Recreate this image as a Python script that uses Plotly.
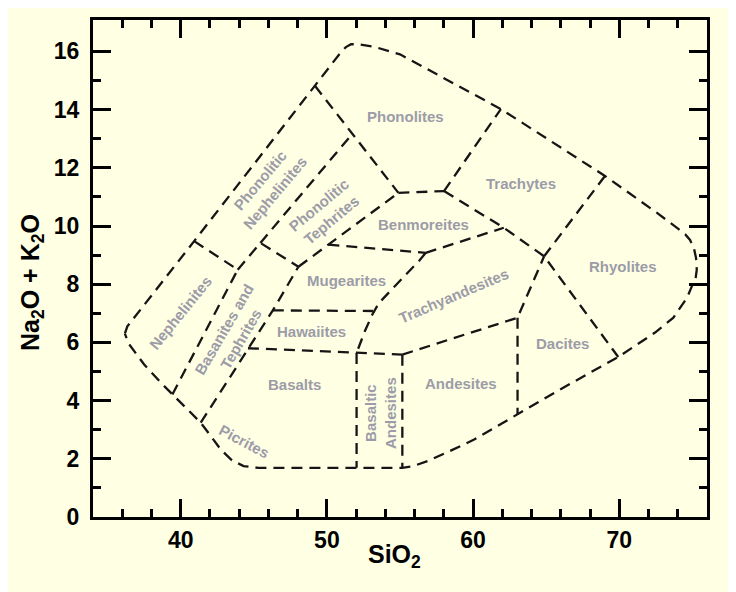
import plotly.graph_objects as go

# ---------------- data (SiO2, Na2O+K2O) ----------------
outer_x = [36.18, 36.35, 40.92, 49.18, 51.0, 51.3, 51.65, 52.2, 53.3, 55.0, 57.3, 59.6, 61.9,
           69.02, 72.56, 74.04, 74.5, 74.84, 75.1, 75.25, 75.3, 75.22, 75.07, 74.64, 73.7, 72.45,
           69.93, 65.94, 63.04, 61.67, 60.07, 58.47, 56.88, 55.9, 55.16, 52.03, 45.3, 44.3, 43.5,
           42.74, 41.37, 40.58, 39.43, 38.75, 37.5, 36.45, 36.18]
outer_y = [6.3, 6.55, 9.48, 14.82, 16.0, 16.15, 16.25, 16.24, 16.15, 15.9, 15.27, 14.65, 14.02,
           11.72, 10.46, 9.9, 9.72, 9.52, 9.25, 8.9, 8.5, 8.2, 8.06, 7.54, 6.85, 6.34,
           5.5, 4.38, 3.52, 3.12, 2.66, 2.28, 1.92, 1.75, 1.69, 1.69, 1.69, 1.75, 1.95,
           2.32, 3.24, 3.64, 4.21, 4.56, 5.24, 5.95, 6.3]

neph_phneph_x = [40.92, 43.9]
neph_phneph_y = [9.48, 8.5]
neph_bas_x = [39.43, 43.9]
neph_bas_y = [4.21, 8.5]
bas_top_x = [43.9, 45.45, 48.05]
bas_top_y = [8.5, 9.42, 8.6]
phneph_phteph_x = [45.45, 51.76]
phneph_phteph_y = [9.42, 13.18]
phneph_phon_x = [49.18, 54.89]
phneph_phon_y = [14.82, 11.14]
bas_right_x = [41.37, 44.6, 46.3, 48.05]
bas_right_y = [3.24, 5.8, 7.1, 8.6]
phteph_right_x = [48.05, 54.89]
phteph_right_y = [8.6, 11.14]
benm_phon_x = [54.89, 58.01]
benm_phon_y = [11.14, 11.2]
phon_trach_x = [58.01, 61.9]
phon_trach_y = [11.2, 14.02]
benm_trach_x = [58.01, 62.1, 64.86, 69.93]
benm_trach_y = [11.2, 9.94, 8.96, 5.5]
trach_rhy_x = [69.02, 64.86]
trach_rhy_y = [11.72, 8.96]
mug_benm_x = [50.1, 56.76]
mug_benm_y = [9.36, 9.08]
benm_tra_x = [56.76, 62.1]
benm_tra_y = [9.08, 9.94]
mug_tra_x = [56.76, 56.3, 54.66, 53.55, 53.1, 52.6, 52.03]
mug_tra_y = [9.08, 8.8, 7.94, 7.35, 6.95, 6.39, 5.64]
haw_mug_x = [46.3, 53.15]
haw_mug_y = [7.1, 7.08]
haw_bas_x = [44.6, 52.03, 55.16]
haw_bas_y = [5.8, 5.64, 5.58]
bas_ba_x = [52.03, 52.03]
bas_ba_y = [5.64, 1.69]
ba_and_x = [55.16, 55.16]
ba_and_y = [5.58, 1.69]
tra_and_x = [55.16, 63.04, 64.86]
tra_and_y = [5.58, 6.85, 8.96]
and_dac_x = [63.04, 63.04]
and_dac_y = [6.85, 3.52]

field_names = ["Phonolites", "Trachytes", "Benmoreites", "Rhyolites", "Mugearites",
               "Trachyandesites", "Hawaiites", "Dacites", "Basalts", "Andesites",
               "Basaltic<br>Andesites", "Picrites", "Nephelinites", "Basanites and<br>Tephrites",
               "Phonolitic<br>Nephelinites", "Phonolitic<br>Tephrites"]
field_x = [55.36, 63.29, 56.61, 70.25, 51.35, 58.7, 48.95, 66.14, 47.81, 59.15,
           53.67, 44.36, 40.0, 43.55, 45.96, 49.9]
field_y = [13.78, 11.46, 10.06, 8.62, 8.14, 7.6, 6.39, 5.95, 4.55, 4.58,
           3.56, 2.59, 7.02, 6.27, 11.36, 10.46]
field_angle = [0, 0, 0, 0, 0, -23, 0, 0, 0, 0, -90, 28, -51, -60, -50, -40]

x_range = [34, 76]
y_range = [0, 17.08]
x_major_ticks = [40, 50, 60, 70]
x_minor_ticks = [36, 38, 42, 44, 46, 48, 52, 54, 56, 58, 62, 64, 66, 68, 72, 74]
y_major_ticks = [0, 2, 4, 6, 8, 10, 12, 14, 16]
y_minor_ticks = [1, 3, 5, 7, 9, 11, 13, 15]

boundaries = [
    (outer_x, outer_y), (neph_phneph_x, neph_phneph_y), (neph_bas_x, neph_bas_y),
    (bas_top_x, bas_top_y), (phneph_phteph_x, phneph_phteph_y), (phneph_phon_x, phneph_phon_y),
    (bas_right_x, bas_right_y), (phteph_right_x, phteph_right_y), (benm_phon_x, benm_phon_y),
    (phon_trach_x, phon_trach_y), (benm_trach_x, benm_trach_y), (trach_rhy_x, trach_rhy_y),
    (mug_benm_x, mug_benm_y), (benm_tra_x, benm_tra_y), (mug_tra_x, mug_tra_y),
    (haw_mug_x, haw_mug_y), (haw_bas_x, haw_bas_y), (bas_ba_x, bas_ba_y),
    (ba_and_x, ba_and_y), (tra_and_x, tra_and_y), (and_dac_x, and_dac_y),
]

# ---------------- figure ----------------
# the page body adds an 8 px margin, so the figure fills the window from (8, 8)
OFF = 8
W, H = 736 - OFF, 592 - OFF
ML, MR, MT, MB = 85, 29, 12, 75
PW, PH = W - ML - MR, H - MT - MB

def px_x(px):          # px measured in window coordinates
    return (px - OFF - ML) / PW

def px_y(py):
    return (H - MB - (py - OFF)) / PH

fig = go.Figure()
for bx, by in boundaries:
    fig.add_trace(go.Scatter(x=bx, y=by, mode="lines",
                             line=dict(color="#151515", width=2.3, dash="11px,7px"),
                             hoverinfo="skip", showlegend=False))

# invisible trace so the top / right tick axes are drawn
fig.add_trace(go.Scatter(x=[x_range[0]], y=[y_range[0]], xaxis="x2", yaxis="y2",
                         mode="markers", marker=dict(opacity=0), hoverinfo="skip",
                         showlegend=False))

label_font = dict(family="Arial, Liberation Sans, sans-serif", size=15, color="#9c9ca8", weight="bold")
for name, lx, ly, ang in zip(field_names, field_x, field_y, field_angle):
    fig.add_annotation(x=lx, y=ly, text=name, showarrow=False, textangle=ang,
                       font=label_font, xanchor="center", yanchor="middle")

title_font = dict(family="Arial, Liberation Sans, sans-serif", size=25, color="black", weight="bold")
fig.add_annotation(xref="paper", yref="paper", x=px_x(394), y=px_y(556),
                   text="SiO<sub>2</sub>", showarrow=False, font=title_font,
                   xanchor="center", yanchor="middle")
fig.add_annotation(xref="paper", yref="paper", x=px_x(32), y=px_y(283),
                   text="Na<sub>2</sub>O + K<sub>2</sub>O", showarrow=False, font=title_font,
                   textangle=-90, xanchor="center", yanchor="middle")

tick_font = dict(family="Arial, Liberation Sans, sans-serif", size=23, color="black", weight="bold")
axis_common = dict(showline=True, linewidth=3, linecolor="black",
                   ticks="inside", ticklen=18, tickwidth=3, tickcolor="black",
                   showgrid=False, zeroline=False, tickfont=tick_font)
xminor = dict(tickmode="array", tickvals=x_minor_ticks, ticklen=8, tickwidth=3,
              tickcolor="black", ticks="inside")
yminor = dict(tickmode="array", tickvals=y_minor_ticks, ticklen=8, tickwidth=3,
              tickcolor="black", ticks="inside")

fig.update_layout(
    xaxis=dict(range=x_range, tickmode="array", tickvals=x_major_ticks, minor=xminor, **axis_common),
    yaxis=dict(range=y_range, tickmode="array", tickvals=y_major_ticks, ticklabelstandoff=6,
               minor=yminor, **axis_common),
    xaxis2=dict(range=x_range, tickmode="array", tickvals=x_major_ticks, minor=xminor,
                overlaying="x", side="top", anchor="y2", showticklabels=False, **axis_common),
    yaxis2=dict(range=y_range, tickmode="array", tickvals=y_major_ticks, minor=yminor,
                overlaying="y", side="right", anchor="x2", showticklabels=False, **axis_common),
)

bg = "#FFFFE4"
fig.update_layout(width=W, height=H, margin=dict(l=ML, r=MR, t=MT, b=MB),
                  paper_bgcolor=bg, plot_bgcolor=bg, showlegend=False)

fig.write_html("out.html")
